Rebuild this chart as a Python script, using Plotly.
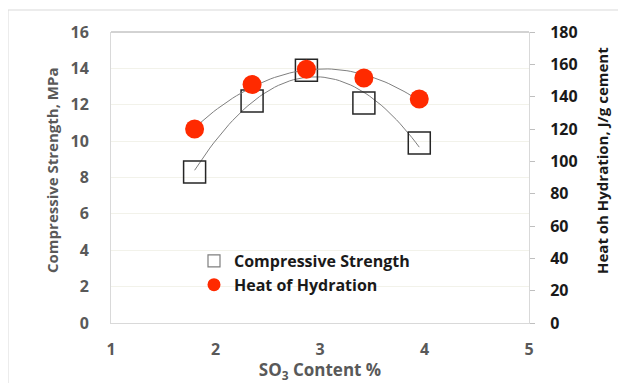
import numpy as np
import plotly.graph_objects as go

so3 = [1.8, 2.35, 2.87, 3.42, 3.95]
strength = [8.3, 12.2, 13.9, 12.1, 9.9]
heat = [120, 147.5, 157, 151.5, 138.5]

x_ticks = [1, 2, 3, 4, 5]
left_ticks = [0, 2, 4, 6, 8, 10, 12, 14, 16]
right_ticks = [0, 20, 40, 60, 80, 100, 120, 140, 160, 180]

# page body has an 8px margin, so the figure is drawn at (8, 8)
OFF = 8
W, H = 626 - OFF, 383 - OFF
PL, PR, PT, PB = 111, 529, 32, 323  # plot area in page pixels
L, T = PL - OFF, PT - OFF
PW, PH = PR - PL, PB - PT
R, B = W - L - PW, H - T - PH

FONT = "Open Sans"
GRAY = "#595959"
DARK = "#1a1a1a"

def px2x(px):
    return (px - PL) / PW

def py2y(py):
    return (PB - py) / PH

def trend(xs, ys):
    c = np.polyfit(xs, ys, 2)
    xx = np.linspace(min(xs), max(xs), 60)
    return xx, np.polyval(c, xx)

fig = go.Figure()

tx, ty = trend(so3, strength)
fig.add_trace(go.Scatter(x=tx, y=ty, mode="lines", line=dict(color="#7f7f7f", width=1),
                         showlegend=False, hoverinfo="skip"))
hx, hy = trend(so3, heat)
fig.add_trace(go.Scatter(x=hx, y=hy, mode="lines", line=dict(color="#7f7f7f", width=1),
                         showlegend=False, hoverinfo="skip", yaxis="y2"))

fig.add_trace(go.Scatter(x=so3, y=strength, mode="markers", name="Compressive Strength",
                         marker=dict(symbol="square-open", size=22, color="#262626",
                                     line=dict(width=1.5, color="#262626")),
                         showlegend=False))
fig.add_trace(go.Scatter(x=so3, y=heat, mode="markers", name="Heat of Hydration",
                         marker=dict(symbol="circle", size=19, color="#ff2a00"),
                         yaxis="y2", showlegend=False))

fig.add_trace(go.Scatter(x=[None], y=[None], mode="markers", name="Compressive Strength",
                         marker=dict(symbol="square-open", size=12, color="#7f7f7f",
                                     line=dict(width=1.2, color="#7f7f7f"))))
fig.add_trace(go.Scatter(x=[None], y=[None], mode="markers", name="Heat of Hydration",
                         marker=dict(symbol="circle", size=13, color="#ff2a00")))

fig.update_layout(
    width=W, height=H,
    margin=dict(l=L, r=R, t=T, b=B, autoexpand=False),
    paper_bgcolor="white", plot_bgcolor="white",
    font=dict(family=FONT, size=15, color=GRAY, weight="bold"),
    xaxis=dict(range=[1, 5], tickvals=x_ticks, showgrid=False, zeroline=False,
               showline=True, linecolor="#d9d9d9", linewidth=1, automargin=False,
               ticks="", ticklabelstandoff=12,
               tickfont=dict(family=FONT, size=16, color=GRAY, weight="bold"),
               title=dict(text="SO<sub>3</sub> Content %", standoff=8,
                          font=dict(family=FONT, size=17, color=GRAY, weight="bold"))),
    yaxis=dict(range=[0, 16], tickvals=left_ticks, showgrid=True, gridcolor="#f2f2ea",
               gridwidth=1, zeroline=False, showline=True, linecolor="#d9d9d9",
               ticks="", ticklabelstandoff=18, automargin=False,
               tickfont=dict(family=FONT, size=16, color=GRAY, weight="bold")),
    yaxis2=dict(range=[0, 180], tickvals=right_ticks, overlaying="y", side="right",
                showgrid=False, zeroline=False, showline=True, linecolor="#d9d9d9",
                ticks="outside", ticklen=5, tickcolor="#bfbfbf", ticklabelstandoff=12,
                automargin=False,
                tickfont=dict(family=FONT, size=16, color=DARK, weight="bold")),
    legend=dict(x=px2x(194), y=py2y(244),
                xanchor="left", yanchor="top", bgcolor="rgba(0,0,0,0)",
                font=dict(family=FONT, size=16, color=DARK, weight="bold"),
                itemwidth=30, tracegroupgap=0),
    annotations=[
        dict(text="Compressive Strength, MPa", xref="paper", yref="paper",
             x=px2x(52), y=py2y(171), xanchor="center", yanchor="middle",
             textangle=-90, showarrow=False,
             font=dict(family=FONT, size=15, color=GRAY, weight="bold")),
        dict(text="Heat oh Hydration, J/g cement", xref="paper", yref="paper",
             x=px2x(602), y=py2y(161), xanchor="center", yanchor="middle",
             textangle=-90, showarrow=False,
             font=dict(family=FONT, size=15, color=DARK, weight="bold")),
    ],
    shapes=[
        dict(type="rect", xref="paper", yref="paper",
             x0=px2x(8), x1=px2x(640), y0=py2y(400), y1=py2y(10),
             line=dict(color="#d9d9d9", width=1), fillcolor="rgba(0,0,0,0)", layer="below"),
        dict(type="line", xref="paper", yref="paper", x0=0, x1=1, y0=1, y1=1,
             line=dict(color="#a6a6a6", width=1)),
    ],
)

fig.write_html("out.html")
